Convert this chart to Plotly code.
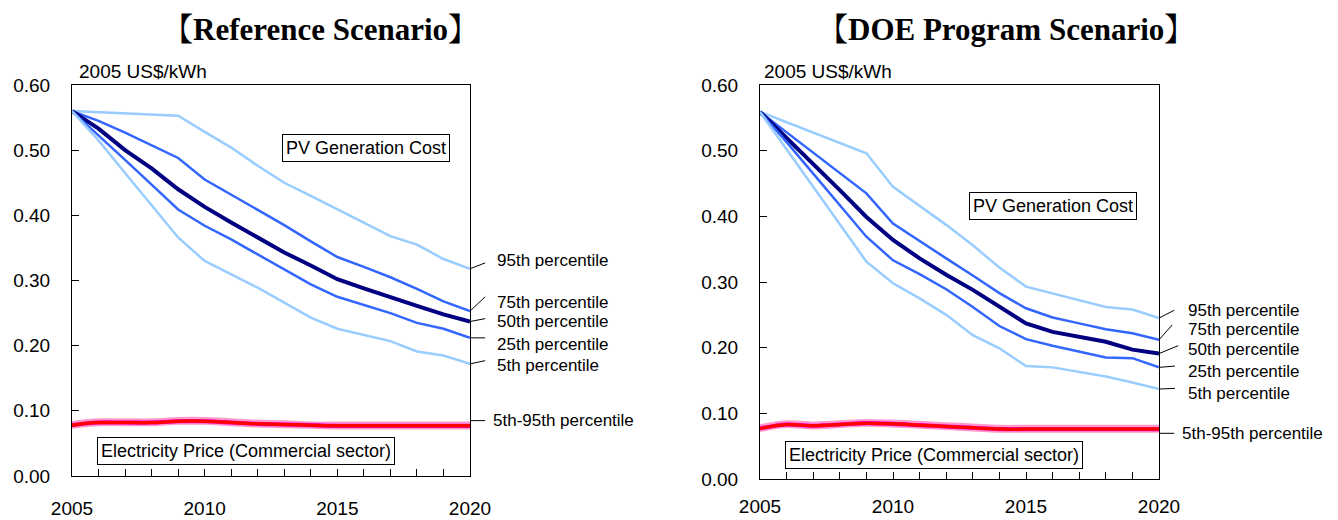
import plotly.graph_objects as go

# ---- data -------------------------------------------------------------
years = list(range(2005, 2021))

# PV generation cost percentiles, Reference Scenario (2005 US$/kWh)
ref_pv_p95 = [0.560, 0.558, 0.556, 0.555, 0.553, 0.528, 0.504, 0.476, 0.450, 0.430, 0.409, 0.389, 0.368, 0.355, 0.333, 0.318]
ref_pv_p75 = [0.560, 0.545, 0.527, 0.508, 0.488, 0.455, 0.432, 0.408, 0.385, 0.360, 0.336, 0.321, 0.305, 0.287, 0.268, 0.253]
ref_pv_p50 = [0.560, 0.533, 0.500, 0.472, 0.440, 0.413, 0.389, 0.366, 0.343, 0.323, 0.302, 0.288, 0.274, 0.261, 0.248, 0.237]
ref_pv_p25 = [0.560, 0.523, 0.485, 0.447, 0.409, 0.384, 0.363, 0.340, 0.317, 0.294, 0.275, 0.263, 0.250, 0.235, 0.226, 0.212]
ref_pv_p05 = [0.560, 0.515, 0.465, 0.415, 0.366, 0.330, 0.309, 0.289, 0.266, 0.243, 0.226, 0.217, 0.207, 0.191, 0.185, 0.172]

# PV generation cost percentiles, DOE Program Scenario
doe_pv_p95 = [0.559, 0.543, 0.527, 0.512, 0.496, 0.445, 0.416, 0.387, 0.356, 0.322, 0.293, 0.283, 0.273, 0.262, 0.258, 0.245]
doe_pv_p75 = [0.559, 0.528, 0.497, 0.466, 0.435, 0.389, 0.362, 0.336, 0.310, 0.283, 0.260, 0.246, 0.237, 0.228, 0.222, 0.212]
doe_pv_p50 = [0.559, 0.520, 0.480, 0.440, 0.399, 0.364, 0.336, 0.311, 0.288, 0.262, 0.237, 0.224, 0.217, 0.209, 0.197, 0.191]
doe_pv_p25 = [0.559, 0.513, 0.465, 0.417, 0.369, 0.333, 0.312, 0.289, 0.262, 0.233, 0.213, 0.203, 0.194, 0.185, 0.184, 0.170]
doe_pv_p05 = [0.559, 0.502, 0.445, 0.388, 0.331, 0.298, 0.275, 0.250, 0.219, 0.199, 0.172, 0.170, 0.163, 0.156, 0.147, 0.137]

# Commercial electricity price percentiles, Reference Scenario
ref_el_p95 = [0.083, 0.087, 0.087, 0.087, 0.089, 0.089, 0.087, 0.085, 0.084, 0.082, 0.082, 0.082, 0.082, 0.082, 0.082, 0.082]
ref_el_p75 = [0.080, 0.084, 0.084, 0.084, 0.086, 0.086, 0.084, 0.082, 0.081, 0.080, 0.079, 0.079, 0.079, 0.079, 0.079, 0.079]
ref_el_p50 = [0.078, 0.082, 0.082, 0.082, 0.084, 0.084, 0.082, 0.080, 0.079, 0.078, 0.077, 0.077, 0.077, 0.077, 0.077, 0.077]
ref_el_p25 = [0.076, 0.080, 0.080, 0.080, 0.082, 0.082, 0.080, 0.078, 0.077, 0.076, 0.075, 0.075, 0.075, 0.075, 0.075, 0.075]
ref_el_p05 = [0.074, 0.078, 0.078, 0.078, 0.080, 0.080, 0.078, 0.076, 0.075, 0.074, 0.073, 0.073, 0.073, 0.073, 0.073, 0.073]

# Commercial electricity price percentiles, DOE Program Scenario
doe_el_p95 = [0.082, 0.088, 0.086, 0.088, 0.090, 0.089, 0.087, 0.085, 0.083, 0.081, 0.081, 0.081, 0.081, 0.081, 0.081, 0.081]
doe_el_p75 = [0.079, 0.085, 0.083, 0.085, 0.087, 0.086, 0.084, 0.082, 0.080, 0.078, 0.078, 0.078, 0.078, 0.078, 0.078, 0.078]
doe_el_p50 = [0.077, 0.083, 0.081, 0.083, 0.085, 0.084, 0.082, 0.080, 0.078, 0.076, 0.076, 0.076, 0.076, 0.076, 0.076, 0.076]
doe_el_p25 = [0.075, 0.081, 0.079, 0.081, 0.083, 0.082, 0.080, 0.078, 0.076, 0.074, 0.074, 0.074, 0.074, 0.074, 0.074, 0.074]
doe_el_p05 = [0.073, 0.079, 0.077, 0.079, 0.081, 0.080, 0.078, 0.076, 0.074, 0.072, 0.072, 0.072, 0.072, 0.072, 0.072, 0.072]

percentile_labels = ["95th percentile", "75th percentile", "50th percentile",
                     "25th percentile", "5th percentile"]
band_label = "5th-95th percentile"
titles = ["【Reference Scenario】", "【DOE Program Scenario】"]
unit_label = "2005 US$/kWh"
pv_box = "PV Generation Cost"
el_box = "Electricity Price (Commercial sector)"

# ---- styling ------------------------------------------------------------
LIGHT = "#99CCFF"
MID = "#3366FF"
NAVY = "#000080"
PINK = "#FF99CC"
MAGENTA = "#FF00FF"
RED = "#FF0000"
SANS = "Liberation Sans, Arial, sans-serif"
SERIF = "Liberation Serif, Times New Roman, Noto Serif CJK JP, Noto Sans CJK JP, serif"

W, H = 1338, 520


def py(pix):
    """Convert a pixel row (from top) to paper y."""
    return 1 - pix / H


def px(pix):
    return pix / W


fig = go.Figure()

panels = [
    dict(xa="x", ya="y",
         pv=[ref_pv_p95, ref_pv_p75, ref_pv_p50, ref_pv_p25, ref_pv_p05],
         el=[ref_el_p95, ref_el_p75, ref_el_p50, ref_el_p25, ref_el_p05]),
    dict(xa="x2", ya="y2",
         pv=[doe_pv_p95, doe_pv_p75, doe_pv_p50, doe_pv_p25, doe_pv_p05],
         el=[doe_el_p95, doe_el_p75, doe_el_p50, doe_el_p25, doe_el_p05]),
]

pv_styles = [(LIGHT, 2.5), (MID, 2.5), (NAVY, 4), (MID, 2.5), (LIGHT, 2.5)]

for p in panels:
    e95, e75, e50, e25, e05 = p["el"]
    # electricity price: pink 5th-95th band, magenta quartiles, red median
    fig.add_trace(go.Scatter(x=years, y=e05, mode="lines", xaxis=p["xa"], yaxis=p["ya"],
                             line=dict(color=PINK, width=2, shape="spline"), hoverinfo="skip"))
    fig.add_trace(go.Scatter(x=years, y=e95, mode="lines", xaxis=p["xa"], yaxis=p["ya"],
                             fill="tonexty", fillcolor=PINK,
                             line=dict(color=PINK, width=2, shape="spline"), hoverinfo="skip"))
    for s in (e75, e25):
        fig.add_trace(go.Scatter(x=years, y=s, mode="lines", xaxis=p["xa"], yaxis=p["ya"],
                                 line=dict(color=MAGENTA, width=1.5, shape="spline"), hoverinfo="skip"))
    fig.add_trace(go.Scatter(x=years, y=e50, mode="lines", xaxis=p["xa"], yaxis=p["ya"],
                             line=dict(color=RED, width=3.5, shape="spline"), hoverinfo="skip"))
    # PV generation cost percentiles
    for s, (c, w) in zip(p["pv"], pv_styles):
        fig.add_trace(go.Scatter(x=years, y=s, mode="lines", xaxis=p["xa"], yaxis=p["ya"],
                                 line=dict(color=c, width=w), hoverinfo="skip"))

# ---- axes -------------------------------------------------------------
ax_common = dict(showline=True, linecolor="black", linewidth=1, mirror=True,
                 showgrid=False, zeroline=False, ticks="inside", ticklen=7,
                 automargin=False,
                 tickcolor="black", tickfont=dict(family=SANS, size=19, color="black"))

x_common = dict(ax_common, range=[2005, 2020], tickvals=[2005, 2010, 2015, 2020],
                minor=dict(dtick=1, ticks="inside", ticklen=7, tickcolor="black"))
y_common = dict(ax_common, range=[0, 0.6], dtick=0.1, tickformat=".2f",
                ticklabelstandoff=17)

fig.update_layout(
    xaxis=dict(x_common, domain=[px(72), px(470)], anchor="y", ticklabelstandoff=15),
    yaxis=dict(y_common, domain=[py(476), py(85)], anchor="x"),
    xaxis2=dict(x_common, domain=[px(760), px(1159)], anchor="y2", ticklabelstandoff=10),
    yaxis2=dict(y_common, domain=[py(479), py(85)], anchor="x2"),
)

# ---- annotations --------------------------------------------------------
ann = []
shapes = []

# panel title, unit label and text boxes (pixel positions)
title_pos = [(320, 29), (1006, 29)]
unit_pos = [(77, 72), (762, 72)]
pv_box_pos = [(366, 148), (1053, 206)]
el_box_pos = [(246, 451), (934, 455)]

for i in range(2):
    ann.append(dict(text=f"<b>{titles[i]}</b>", xref="paper", yref="paper",
                    x=px(title_pos[i][0]), y=py(title_pos[i][1]), xanchor="center", yanchor="middle",
                    showarrow=False, font=dict(family=SERIF, size=31, color="black")))
    ann.append(dict(text=unit_label, xref="paper", yref="paper",
                    x=px(unit_pos[i][0]), y=py(unit_pos[i][1]), xanchor="left", yanchor="middle",
                    showarrow=False, font=dict(family=SANS, size=19, color="black")))
    ann.append(dict(text=pv_box, xref="paper", yref="paper",
                    x=px(pv_box_pos[i][0]), y=py(pv_box_pos[i][1]), xanchor="center", yanchor="middle",
                    showarrow=False, bordercolor="black", borderwidth=1, borderpad=3,
                    bgcolor="white", font=dict(family=SANS, size=18, color="black")))
    ann.append(dict(text=el_box, xref="paper", yref="paper",
                    x=px(el_box_pos[i][0]), y=py(el_box_pos[i][1]), xanchor="center", yanchor="middle",
                    showarrow=False, bordercolor="black", borderwidth=1, borderpad=3,
                    bgcolor="white", font=dict(family=SANS, size=18, color="black")))

# right-hand percentile labels with leader lines
label_layout = [
    dict(text_y=[0.331, 0.267, 0.237, 0.202, 0.169],
         lead_y=[0.327, 0.275, 0.2415, 0.212, 0.177],
         lead_x=[1.038, 1.038, 1.038, 1.038, 1.038],
         text_x=1.063, band_y=0.085, band_text_x=1.052),
    dict(text_y=[0.257, 0.228, 0.1975, 0.163, 0.1305],
         lead_y=[0.257, 0.2345, 0.203, 0.172, 0.138],
         lead_x=[1.038, 1.033, 1.048, 1.040, 1.040],
         text_x=1.067, band_y=0.0696, band_text_x=1.053),
]

for p, lay in zip(panels, label_layout):
    for s, t, ty, ly, lx in zip(p["pv"], percentile_labels, lay["text_y"], lay["lead_y"], lay["lead_x"]):
        shapes.append(dict(type="line", xref=f"{p['xa']} domain", yref=p["ya"],
                           x0=1, y0=s[-1], x1=lx, y1=ly, line=dict(color="black", width=1)))
        ann.append(dict(text=t, xref=f"{p['xa']} domain", yref=p["ya"], x=lay["text_x"], y=ty,
                        xanchor="left", yanchor="middle", showarrow=False,
                        font=dict(family=SANS, size=17, color="black")))
    shapes.append(dict(type="line", xref=f"{p['xa']} domain", yref=p["ya"],
                       x0=1, y0=lay["band_y"], x1=1.038, y1=lay["band_y"],
                       line=dict(color="black", width=1)))
    ann.append(dict(text=band_label, xref=f"{p['xa']} domain", yref=p["ya"],
                    x=lay["band_text_x"], y=lay["band_y"], xanchor="left", yanchor="middle",
                    showarrow=False, font=dict(family=SANS, size=17, color="black")))

fig.update_layout(
    annotations=ann,
    shapes=shapes,
    width=W, height=H,
    margin=dict(l=0, r=0, t=0, b=0),
    paper_bgcolor="white", plot_bgcolor="white",
    showlegend=False,
    font=dict(family=SANS, color="black"),
)

fig.write_html("out.html")
